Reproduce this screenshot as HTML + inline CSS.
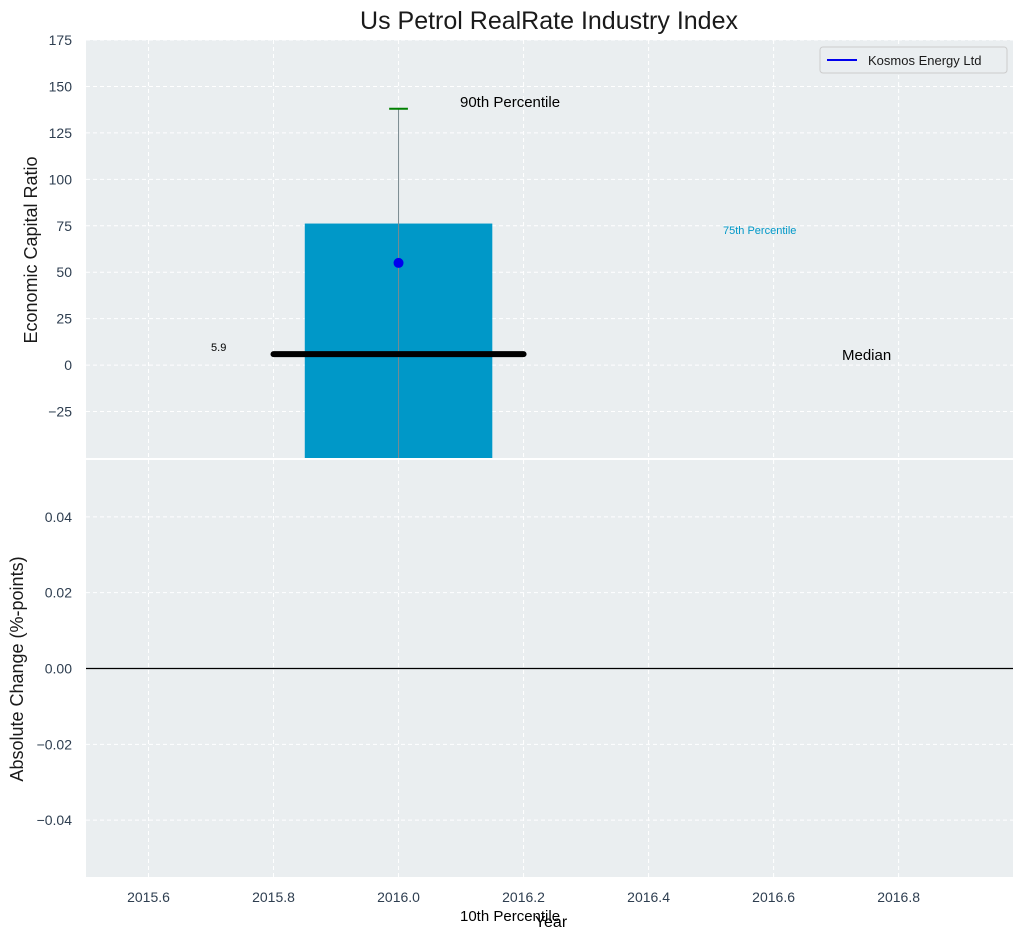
<!DOCTYPE html>
<html><head><meta charset="utf-8"><style>
body{margin:0;background:#fff;}
svg text{font-family:"Liberation Sans",sans-serif;}
</style></head><body>
<svg id="c" width="1025" height="940" xmlns="http://www.w3.org/2000/svg"></svg>
<script>
const xTicks=[2015.6,2015.8,2016.0,2016.2,2016.4,2016.6,2016.8];
const yTopTicks=[-25,0,25,50,75,100,125,150,175];
const yBotTicks=[-0.04,-0.02,0.00,0.02,0.04];
const barYear=[2016.0];
const bar75=[76.2];
const companyValue=[55];
const p90=[138];
const median=[5.9];
const NS="http://www.w3.org/2000/svg";
const svg=document.getElementById('c');
const L=86,R=1013,T1=40,B1=458,T2=460,B2=877;
const x=v=>L+(v-2015.5)/(2016.983-2015.5)*(R-L);
const y1=v=>B1-(v+50)/225*(B1-T1);
const y2=v=>B2-(v+0.055)/0.11*(B2-T2);
function el(t,a,txt){const e=document.createElementNS(NS,t);for(const k in a)e.setAttribute(k,a[k]);if(txt!==undefined)e.textContent=txt;svg.appendChild(e);return e;}
let e;
e=el('rect',{x:L,y:T1,width:R-L,height:B1-T1,fill:'#eaeef0'});

e=el('rect',{x:L,y:T2,width:R-L,height:B2-T2,fill:'#eaeef0'});

xTicks.forEach(t=>{
 el('line',{x1:x(t),x2:x(t),y1:T1,y2:B1,stroke:'#fff','stroke-dasharray':'4,3','stroke-width':1});
 el('line',{x1:x(t),x2:x(t),y1:T2,y2:B2,stroke:'#fff','stroke-dasharray':'4,3','stroke-width':1});
 e=el('text',{x:x(t),y:902,'text-anchor':'middle','font-size':14,fill:'#2e3e50'},t.toFixed(1));
 
});
yTopTicks.forEach(t=>{
 el('line',{x1:L,x2:R,y1:y1(t),y2:y1(t),stroke:'#fff','stroke-dasharray':'4,3'});
 e=el('text',{x:72,y:y1(t)+5,'text-anchor':'end','font-size':14,fill:'#2e3e50'},t<0?'\u2212'+(-t):t);
 
});
yBotTicks.forEach(t=>{
 el('line',{x1:L,x2:R,y1:y2(t),y2:y2(t),stroke:'#fff','stroke-dasharray':'4,3'});
 const s=Math.abs(t).toFixed(2);
 e=el('text',{x:72,y:y2(t)+5,'text-anchor':'end','font-size':14,fill:'#2e3e50'},t<0?'\u2212'+s:s);
 
});
barYear.forEach((yr,i)=>{
 e=el('rect',{x:x(yr-0.15),y:y1(bar75[i]),width:x(yr+0.15)-x(yr-0.15),height:y1(-50)-y1(bar75[i]),fill:'#0098c8'});
 
 e=el('line',{x1:x(yr),x2:x(yr),y1:y1(p90[i]),y2:y1(-50),stroke:'#7a8a90','stroke-width':1});
 
 e=el('line',{x1:x(yr-0.015),x2:x(yr+0.015),y1:y1(p90[i]),y2:y1(p90[i]),stroke:'green','stroke-width':2});
 
 e=el('line',{x1:x(yr-0.2),x2:x(yr+0.2),y1:y1(median[i]),y2:y1(median[i]),stroke:'#000','stroke-width':6,'stroke-linecap':'round'});
 
 e=el('circle',{cx:x(yr),cy:y1(companyValue[i]),r:5,fill:'#0000ee'});
 
 e=el('text',{x:x(2015.7),y:y1(median[i])-3,'font-size':11,fill:'#000'},median[i].toFixed(1));
 
});
el('line',{x1:L,x2:R,y1:y2(0),y2:y2(0),stroke:'#000','stroke-width':1.2});
e=el('text',{x:460,y:107,'font-size':15,fill:'#000'},'90th Percentile');
e=el('text',{x:723,y:234,'font-size':11,fill:'#0098c8'},'75th Percentile');
e=el('text',{x:842,y:360,'font-size':15,fill:'#000'},'Median');
e=el('text',{x:551,y:927,'text-anchor':'middle','font-size':16,fill:'#000'},'Year');
e=el('text',{x:460,y:921,'font-size':15,fill:'#000'},'10th Percentile');
e=el('text',{x:549,y:29,'text-anchor':'middle','font-size':25,fill:'#1a1a1a'},'Us Petrol RealRate Industry Index');
e=el('text',{x:37,y:250,'text-anchor':'middle','font-size':18,fill:'#1a1a1a',transform:'rotate(-90 37 250)'},'Economic Capital Ratio');
e=el('text',{x:23,y:669,'text-anchor':'middle','font-size':18,fill:'#1a1a1a',transform:'rotate(-90 23 669)'},'Absolute Change (%-points)');
e=el('rect',{x:820,y:47,width:187,height:26,rx:3,fill:'#eaeef0',stroke:'#ccc'});
el('line',{x1:827,x2:857,y1:60,y2:60,stroke:'#0000ee','stroke-width':2});
e=el('text',{x:868,y:65,'font-size':13,fill:'#1a1a1a'},'Kosmos Energy Ltd');
</script>
</body></html>
